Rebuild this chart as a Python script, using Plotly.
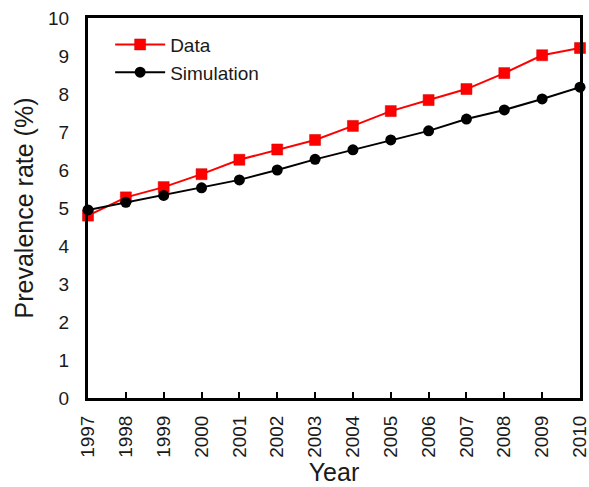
import plotly.graph_objects as go

years = list(range(1997, 2011))
data_vals = [4.80, 5.28, 5.55, 5.89, 6.27, 6.54, 6.79, 7.16, 7.55, 7.84, 8.13, 8.55, 9.02, 9.21]
sim_vals = [4.95, 5.15, 5.33, 5.53, 5.74, 6.00, 6.28, 6.53, 6.79, 7.03, 7.34, 7.58, 7.87, 8.18]
y_ticks = list(range(0, 11))

fig = go.Figure()
fig.add_trace(go.Scatter(
    x=years, y=data_vals, name="Data", mode="lines+markers",
    line=dict(color="#ff0000", width=2),
    marker=dict(symbol="square", size=11, color="#ff0000", line=dict(color="#d00000", width=0.5)),
    cliponaxis=False,
))
fig.add_trace(go.Scatter(
    x=years, y=sim_vals, name="Simulation", mode="lines+markers",
    line=dict(color="#000000", width=2),
    marker=dict(symbol="circle", size=11, color="#000000"),
    cliponaxis=False,
))

font_family = "Liberation Sans, Arial, sans-serif"
fig.update_layout(
    width=589, height=487,
    margin=dict(l=88, r=9, t=18, b=89),
    paper_bgcolor="white", plot_bgcolor="white",
    font=dict(family=font_family, color="#1a1a1a"),
    showlegend=True,
    legend=dict(x=0.045, y=0.98, xanchor="left", yanchor="top",
                bgcolor="rgba(0,0,0,0)", font=dict(size=19, family=font_family),
                itemwidth=50, tracegroupgap=0),
    xaxis=dict(
        range=[1997, 2010], tickmode="array", tickvals=years,
        ticktext=[str(y) for y in years], tickangle=-90,
        ticks="inside", ticklen=6, tickwidth=2, tickcolor="black",
        showline=True, linewidth=3, linecolor="black", mirror=True,
        showgrid=False, zeroline=False, automargin=False,
        ticklabeloverflow="allow",
        tickfont=dict(size=19), ticklabelstandoff=7,
        title=dict(text="Year", font=dict(size=25), standoff=7),
    ),
    yaxis=dict(
        range=[0, 10], tickmode="array", tickvals=y_ticks,
        ticks="", showline=True, linewidth=3, linecolor="black", mirror=True,
        showgrid=False, zeroline=False, automargin=False,
        ticklabeloverflow="allow",
        tickfont=dict(size=19), ticklabelstandoff=12,
        title=dict(text="Prevalence rate (%)", font=dict(size=25), standoff=8),
    ),
)

fig.write_html("out.html", config={"displayModeBar": False},
               post_script="document.body.style.margin='0';document.body.style.padding='0';")
